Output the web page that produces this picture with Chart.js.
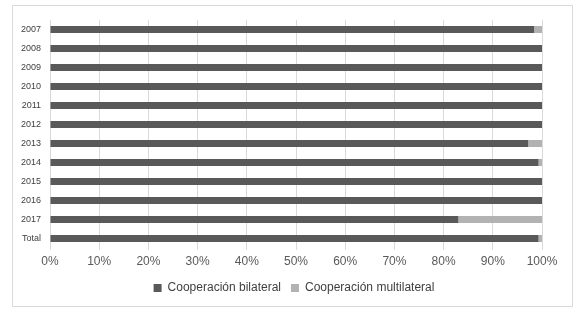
<!DOCTYPE html>
<html>
  <head>
    <title>Cooperación</title>
    <script src="https://cdn.jsdelivr.net/npm/chart.js"></script>
    <style>
      body { margin: 0; background: #fff; }
      .marco {
        position: absolute; left: 12px; top: 5px;
        width: 559px; height: 300px;
        border: 1px solid #d9d9d9;
      }
      .grafico { position: absolute; left: 0; top: 0; width: 580px; height: 312px; }
    </style>
  </head>
  <body>
    <div class="marco"></div>
    <div class="grafico">
      <canvas id="cooperacion"></canvas>
    </div>

    <script>
      var anios = ["2007", "2008", "2009", "2010", "2011", "2012", "2013", "2014", "2015", "2016", "2017", "Total"];
      var bilateral = [98.4, 100, 100, 100, 100, 100, 97.2, 99.3, 100, 100, 83, 99.3];
      var multilateral = [1.6, 0, 0, 0, 0, 0, 2.8, 0.7, 0, 0, 17, 0.7];

      // mueve la leyenda un poco a la derecha, como en el original
      var moverLeyenda = {
        id: "moverLeyenda",
        afterLayout(chart) {
          chart.legend.left += 23;
          chart.legend.right += 23;
        },
      };

      var grafico = new Chart(document.getElementById("cooperacion").getContext("2d"), {
        type: "bar",
        data: {
          labels: anios,
          datasets: [
            {
              label: "Cooperación bilateral",
              data: bilateral,
              backgroundColor: "#595959",
              barPercentage: 0.37,
              categoryPercentage: 1,
            },
            {
              label: "Cooperación multilateral",
              data: multilateral,
              backgroundColor: "#b2b2b2",
              barPercentage: 0.37,
              categoryPercentage: 1,
            },
          ],
        },
        options: {
          indexAxis: "y",
          responsive: true,
          maintainAspectRatio: false,
          animation: false,
          layout: { padding: { left: 0, right: 38, top: 20, bottom: 8 } },
          scales: {
            x: {
              stacked: true,
              min: 0,
              max: 100,
              ticks: {
                stepSize: 10,
                color: "#595959",
                font: { family: "Liberation Sans", size: 12 },
                padding: 4,
                callback: (v) => v + "%",
              },
              grid: { color: "#d9d9d9", drawTicks: true, tickLength: 2 },
              border: { display: false },
              afterFit: (s) => { s.height = 24; },
            },
            y: {
              stacked: true,
              ticks: {
                color: "#404040",
                font: { family: "Liberation Sans", size: 9 },
                padding: 1,
              },
              grid: { display: false },
              border: { display: false },
              afterFit: (s) => { s.width = 50; },
            },
          },
          plugins: {
            legend: {
              position: "bottom",
              labels: {
                color: "#404040",
                font: { family: "Liberation Sans", size: 12 },
                boxWidth: 8,
                boxHeight: 8,
                padding: 10,
              },
            },
            tooltip: { enabled: false },
          },
        },
        plugins: [moverLeyenda],
      });
    </script>
  </body>
</html>
